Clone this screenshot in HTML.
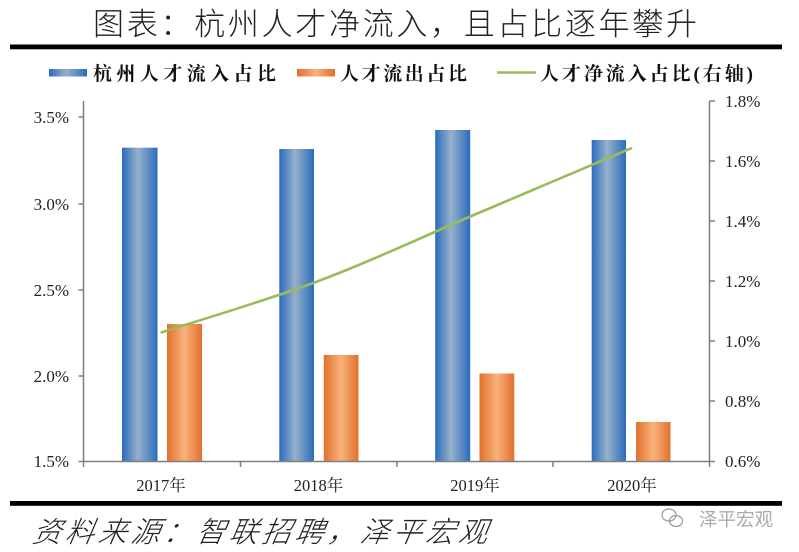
<!DOCTYPE html>
<html>
<head>
<meta charset="utf-8">
<style>
html,body{margin:0;padding:0;background:#ffffff;}
svg{display:block;}
</style>
</head>
<body>
<svg width="799" height="552" viewBox="0 0 799 552" xmlns="http://www.w3.org/2000/svg">
<defs>
<linearGradient id="gb" x1="0" y1="0" x2="1" y2="0">
<stop offset="0" stop-color="#2a6bbf"/>
<stop offset="0.45" stop-color="#96b1ca"/>
<stop offset="1" stop-color="#2b6cbf"/>
</linearGradient>
<linearGradient id="go" x1="0" y1="0" x2="1" y2="0">
<stop offset="0" stop-color="#e2702c"/>
<stop offset="0.5" stop-color="#f9b27c"/>
<stop offset="1" stop-color="#e2702c"/>
</linearGradient>
</defs>
<rect width="799" height="552" fill="#ffffff"/>

<!-- Title -->
<text x="93" y="35" font-family="'Liberation Sans','Noto Sans CJK SC',sans-serif" font-weight="300" font-size="31" fill="#222" textLength="604" lengthAdjust="spacing">图表：杭州人才净流入，且占比逐年攀升</text>
<rect x="10" y="44.5" width="772" height="4.8" fill="#000"/>

<!-- Legend -->
<rect x="49" y="69" width="38" height="7.5" fill="url(#gb)"/>
<text x="93" y="80" font-family="'Liberation Serif','Noto Serif CJK SC',serif" font-weight="bold" font-size="19" fill="#111" textLength="183" lengthAdjust="spacing">杭州人才流入占比</text>
<rect x="297" y="69" width="38" height="7.5" fill="url(#go)"/>
<text x="340" y="80" font-family="'Liberation Serif','Noto Serif CJK SC',serif" font-weight="bold" font-size="19" fill="#111" textLength="127" lengthAdjust="spacing">人才流出占比</text>
<line x1="497" y1="72.5" x2="536" y2="72.5" stroke="#9bbb59" stroke-width="2.5"/>
<text x="540" y="80" font-family="'Liberation Serif','Noto Serif CJK SC',serif" font-weight="bold" font-size="19" fill="#111" textLength="213" lengthAdjust="spacing">人才净流入占比(右轴)</text>

<!-- Bars -->
<rect x="122" y="147.7" width="35.5" height="313.3" fill="url(#gb)"/>
<rect x="167" y="324" width="35" height="137" fill="url(#go)"/>
<rect x="279.3" y="149" width="34.7" height="312" fill="url(#gb)"/>
<rect x="323.8" y="355" width="34.7" height="106" fill="url(#go)"/>
<rect x="435.2" y="130" width="35" height="331" fill="url(#gb)"/>
<rect x="479.5" y="373.5" width="34.8" height="87.5" fill="url(#go)"/>
<rect x="591.7" y="140" width="34.3" height="321" fill="url(#gb)"/>
<rect x="636" y="422" width="34.5" height="39" fill="url(#go)"/>

<!-- Line -->
<path d="M161.7,332.3 C187.8,323.8 266.3,300.6 318.5,281 C370.7,261.4 422.9,236.6 475,214.5 C527.1,192.4 605,159.3 631,148.3" fill="none" stroke="#9bbb59" stroke-width="2.6" stroke-linecap="round"/>

<!-- Axes -->
<g stroke="#7f7f7f" stroke-width="1.5" fill="none">
<line x1="83.5" y1="101" x2="83.5" y2="461.5"/>
<line x1="709.5" y1="101" x2="709.5" y2="461.5"/>
<line x1="83.5" y1="461.5" x2="709.5" y2="461.5"/>
<line x1="78.5" y1="117" x2="83.5" y2="117"/>
<line x1="78.5" y1="204" x2="83.5" y2="204"/>
<line x1="78.5" y1="290" x2="83.5" y2="290"/>
<line x1="78.5" y1="376" x2="83.5" y2="376"/>
<line x1="78.5" y1="461.5" x2="83.5" y2="461.5"/>
<line x1="709.5" y1="101" x2="715" y2="101"/>
<line x1="709.5" y1="161" x2="715" y2="161"/>
<line x1="709.5" y1="221" x2="715" y2="221"/>
<line x1="709.5" y1="281" x2="715" y2="281"/>
<line x1="709.5" y1="341" x2="715" y2="341"/>
<line x1="709.5" y1="401" x2="715" y2="401"/>
<line x1="709.5" y1="461.5" x2="715" y2="461.5"/>
<line x1="83.5" y1="461.5" x2="83.5" y2="467"/>
<line x1="240.5" y1="461.5" x2="240.5" y2="467"/>
<line x1="397" y1="461.5" x2="397" y2="467"/>
<line x1="553" y1="461.5" x2="553" y2="467"/>
<line x1="709.5" y1="461.5" x2="709.5" y2="467"/>
</g>

<!-- Left labels -->
<g font-family="'Liberation Serif',serif" font-size="17" fill="#222" text-anchor="end">
<text x="69" y="123">3.5%</text>
<text x="69" y="210">3.0%</text>
<text x="69" y="296">2.5%</text>
<text x="69" y="382">2.0%</text>
<text x="69" y="467">1.5%</text>
</g>
<!-- Right labels -->
<g font-family="'Liberation Serif',serif" font-size="17" fill="#222">
<text x="725" y="107">1.8%</text>
<text x="725" y="167">1.6%</text>
<text x="725" y="227">1.4%</text>
<text x="725" y="287">1.2%</text>
<text x="725" y="347">1.0%</text>
<text x="725" y="407">0.8%</text>
<text x="725" y="467">0.6%</text>
</g>
<!-- Category labels -->
<g font-family="'Liberation Serif','Noto Serif CJK SC',serif" font-size="16.5" fill="#222" text-anchor="middle">
<text x="161" y="491">2017年</text>
<text x="318.5" y="491">2018年</text>
<text x="475" y="491">2019年</text>
<text x="632" y="491">2020年</text>
</g>

<rect x="10" y="501" width="772" height="4.8" fill="#000"/>

<!-- Source -->
<text x="32" y="542" font-family="'Liberation Sans','Noto Sans CJK SC',sans-serif" font-weight="200" font-style="italic" font-size="29" fill="#222" textLength="455" lengthAdjust="spacing" transform="skewX(-10) translate(95,0)">资料来源：智联招聘，泽平宏观</text>

<!-- Watermark -->
<g fill="none" stroke="#999" stroke-width="1.2">
<ellipse cx="669" cy="515" rx="7" ry="6"/>
<ellipse cx="676" cy="521" rx="6.5" ry="5.5"/>
</g>
<text x="699" y="526" font-family="'Liberation Sans','Noto Sans CJK SC',sans-serif" font-size="18.5" fill="#aaa" textLength="74" lengthAdjust="spacing">泽平宏观</text>
</svg>
</body>
</html>
